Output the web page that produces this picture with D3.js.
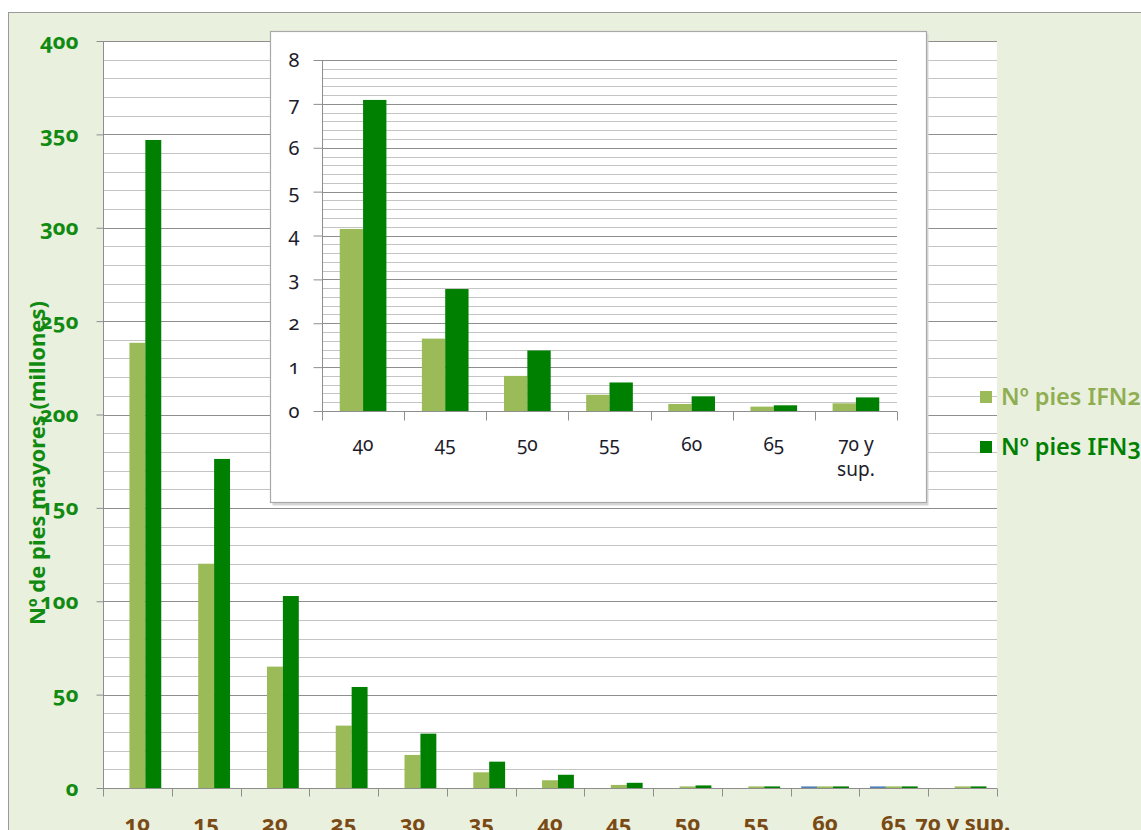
<!DOCTYPE html>
<html>
<head>
<meta charset="utf-8">
<script src="https://cdn.jsdelivr.net/npm/d3@7"></script>
<style>
  html, body { margin: 0; padding: 0; background: #ffffff; }
  svg { display: block; }
  text { font-family: "Noto Sans", "Open Sans", sans-serif; font-variant-numeric: oldstyle-nums; }
</style>
</head>
<body>
<svg id="chart" width="1141" height="830"></svg>
<script>
// Diameter classes (cm) and tree counts (millions) per inventory
const categories = ["10", "15", "20", "25", "30", "35", "40", "45", "50", "55", "60", "65", "70 y sup."];
const ifn2 = [238.4, 120.1, 65.0, 33.4, 17.7, 8.4, 4.15, 1.65, 0.80, 0.37, 0.16, 0.10, 0.175];
const ifn3 = [347.0, 176.2, 102.8, 54.1, 29.1, 14.1, 7.09, 2.78, 1.38, 0.65, 0.335, 0.13, 0.31];
const extraSeries = [0, 0, 0, 0, 0, 0, 0, 0, 0, 0, 0.2, 0.2, 0];
const seriesNames = ["Nº pies IFN2", "Nº pies IFN3"];
const mainTicks = [0, 50, 100, 150, 200, 250, 300, 350, 400];
const insetTicks = [0, 1, 2, 3, 4, 5, 6, 7, 8];
const insetStart = 6; // inset zooms into classes from 40 cm upward

const colors = { extra: "#4F81BD", ifn2: "#9BBB59", ifn3: "#008000" };

const svg = d3.select("#chart");

// outer chart area
svg.append("rect").attr("x", 0).attr("y", 0).attr("width", 1141).attr("height", 830).attr("fill", "#ffffff");
svg.append("rect").attr("x", 8.5).attr("y", 12.5).attr("width", 1140).attr("height", 830)
  .attr("fill", "#EAF0DE").attr("stroke", "#9a9a9a").attr("stroke-width", 1);

// ---------- main chart ----------
const x = d3.scaleBand().domain(categories).range([103, 997]).paddingInner(0).paddingOuter(0);
const y = d3.scaleLinear().domain([0, 400]).range([788, 41]);
const keys = ["extra", "ifn2", "ifn3"];
const xs = d3.scaleBand().domain(keys).range([0, x.bandwidth()]).paddingInner(0).paddingOuter(0.66);

svg.append("rect").attr("x", 103).attr("y", 41).attr("width", 894).attr("height", 747).attr("fill", "#ffffff");

// gridlines: minor every 10, major every 50
const minor = d3.range(10, 401, 10).filter(v => v % 50 !== 0);
svg.append("g").selectAll("line").data(minor).join("line")
  .attr("x1", 103).attr("x2", 997).attr("y1", d => Math.round(y(d)) + 0.5).attr("y2", d => Math.round(y(d)) + 0.5)
  .attr("stroke", "#c4c4c4").attr("stroke-width", 1.2);
svg.append("g").selectAll("line").data(mainTicks.filter(v => v > 0)).join("line")
  .attr("x1", 103).attr("x2", 997).attr("y1", d => Math.round(y(d)) + 0.5).attr("y2", d => Math.round(y(d)) + 0.5)
  .attr("stroke", "#8e8e8e").attr("stroke-width", 1.2);

const rows = categories.map((c, i) => ({ cat: c, extra: extraSeries[i], ifn2: ifn2[i], ifn3: ifn3[i] }));

const barG = svg.append("g");
rows.forEach(r => {
  keys.forEach(k => {
    if (r[k] <= 0) return;
    const top = y(r[k]);
    const h = Math.max(1.6, y(0) - top);
    barG.append("rect")
      .attr("x", x(r.cat) + xs(k)).attr("width", xs.bandwidth())
      .attr("y", y(0) - h).attr("height", h)
      .attr("fill", colors[k]);
  });
});

// axes
const yAxis = d3.axisLeft(y).tickValues(mainTicks).tickSize(7).tickPadding(18).tickFormat(d3.format("d"));
const gy = svg.append("g").attr("transform", "translate(103.5,0)").call(yAxis);
gy.select(".domain").attr("stroke", "#8e8e8e").attr("d", "M0,41V788");
gy.selectAll(".tick line").attr("stroke", "#8e8e8e");
gy.selectAll(".tick text").attr("fill", "#118a11").attr("font-size", 22).attr("font-weight", "bold");

const gx = svg.append("g").attr("transform", "translate(0,788.5)");
gx.append("line").attr("x1", 103).attr("x2", 997).attr("stroke", "#8e8e8e");
const bounds = categories.map(c => x(c)).concat([x.range()[1]]);
gx.selectAll("line.tk").data(bounds).join("line").attr("class", "tk")
  .attr("x1", d => Math.round(d) + 0.5).attr("x2", d => Math.round(d) + 0.5).attr("y1", 0).attr("y2", 8)
  .attr("stroke", "#8e8e8e");
gx.selectAll("text").data(categories).join("text")
  .attr("x", d => x(d) + x.bandwidth() / 2).attr("y", 42)
  .attr("text-anchor", "middle").attr("fill", "#7a4a14").attr("font-size", 22).attr("font-weight", "bold")
  .text(d => d);

svg.append("text")
  .attr("transform", "translate(45,463) rotate(-90)")
  .attr("text-anchor", "middle").attr("fill", "#118a11").attr("font-size", 22).attr("font-weight", "bold")
  .text("Nº de pies mayores (millones)");

// legend
const legend = svg.append("g");
seriesNames.forEach((name, i) => {
  const k = i === 0 ? "ifn2" : "ifn3";
  const ly = 397 + i * 50;
  legend.append("rect").attr("x", 980).attr("y", ly - 6).attr("width", 12).attr("height", 12).attr("fill", colors[k]);
  legend.append("text").attr("x", 1001).attr("y", ly + 8)
    .attr("fill", i === 0 ? "#8fae52" : "#008000").attr("font-size", 23.5).attr("font-weight", 600)
    .text(name);
});

// ---------- inset: classes 40 cm and above ----------
const insetCats = categories.slice(insetStart);
const insetRows = rows.slice(insetStart);
svg.append("rect").attr("x", 272.5).attr("y", 33.5).attr("width", 656).attr("height", 472)
  .attr("fill", "#d6d6d6");
svg.append("rect").attr("x", 270.5).attr("y", 31.5).attr("width", 656).attr("height", 471)
  .attr("fill", "#ffffff").attr("stroke", "#a8a8a8").attr("stroke-width", 1.2);

const ix = d3.scaleBand().domain(insetCats).range([322, 897]).paddingInner(0).paddingOuter(0);
const iy = d3.scaleLinear().domain([0, 8]).range([411, 60]);
const ikeys = ["ifn2", "ifn3"];
const ixs = d3.scaleBand().domain(ikeys).range([0, ix.bandwidth()]).paddingInner(0).paddingOuter(0.76);

const iminor = d3.range(1, 40).map(v => v / 5).filter(v => Math.abs(v - Math.round(v)) > 1e-6);
svg.append("g").selectAll("line").data(iminor).join("line")
  .attr("x1", 322).attr("x2", 897).attr("y1", d => Math.round(iy(d)) + 0.5).attr("y2", d => Math.round(iy(d)) + 0.5)
  .attr("stroke", "#c4c4c4").attr("stroke-width", 1.2);
svg.append("g").selectAll("line").data(insetTicks.filter(v => v > 0)).join("line")
  .attr("x1", 322).attr("x2", 897).attr("y1", d => Math.round(iy(d)) + 0.5).attr("y2", d => Math.round(iy(d)) + 0.5)
  .attr("stroke", "#8e8e8e").attr("stroke-width", 1.2);

const ibars = svg.append("g");
insetRows.forEach(r => {
  ikeys.forEach(k => {
    ibars.append("rect")
      .attr("x", ix(r.cat) + ixs(k)).attr("width", ixs.bandwidth())
      .attr("y", iy(r[k])).attr("height", iy(0) - iy(r[k]))
      .attr("fill", colors[k]);
  });
});

const iyAxis = d3.axisLeft(iy).tickValues(insetTicks).tickSize(9).tickPadding(14).tickFormat(d3.format("d"));
const giy = svg.append("g").attr("transform", "translate(322.5,0)").call(iyAxis);
giy.select(".domain").attr("stroke", "#8e8e8e").attr("d", "M0,60V411");
giy.selectAll(".tick line").attr("stroke", "#8e8e8e");
giy.selectAll(".tick text").attr("fill", "#1c1c2c").attr("font-size", 20);

const gix = svg.append("g").attr("transform", "translate(0,411.5)");
gix.append("line").attr("x1", 322).attr("x2", 897).attr("stroke", "#8e8e8e");
const ibounds = insetCats.map(c => ix(c)).concat([ix.range()[1]]);
gix.selectAll("line.tk").data(ibounds).join("line").attr("class", "tk")
  .attr("x1", d => Math.round(d) + 0.5).attr("x2", d => Math.round(d) + 0.5).attr("y1", 0).attr("y2", 9)
  .attr("stroke", "#8e8e8e");
const ilabels = gix.selectAll("text").data(insetCats).join("text")
  .attr("x", d => ix(d) + ix.bandwidth() / 2).attr("y", 39)
  .attr("text-anchor", "middle").attr("fill", "#1c1c2c").attr("font-size", 19);
ilabels.each(function (d) {
  const t = d3.select(this);
  if (d.indexOf(" y ") > 0) {
    const parts = d.split(" y ");
    t.append("tspan").attr("x", ix(d) + ix.bandwidth() / 2).attr("dy", 0).text(parts[0] + " y");
    t.append("tspan").attr("x", ix(d) + ix.bandwidth() / 2).attr("dy", 25).text(parts[1]);
  } else {
    t.text(d);
  }
});
</script>
</body>
</html>
